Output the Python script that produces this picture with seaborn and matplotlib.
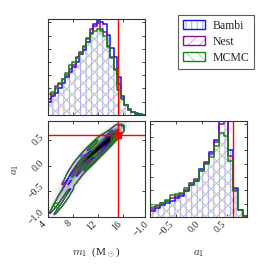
import numpy as np
import pandas as pd
import matplotlib
matplotlib.use("Agg")
import matplotlib.pyplot as plt
import seaborn as sns
from matplotlib.patches import Patch
from matplotlib.legend_handler import HandlerTuple

sns.set_style("ticks")
plt.rcParams["font.family"] = ["Liberation Serif", "DejaVu Serif"]
plt.rcParams["mathtext.fontset"] = "cm"
plt.rcParams["hatch.linewidth"] = 0.7
plt.rcParams["xtick.direction"] = "in"
plt.rcParams["ytick.direction"] = "in"

# injected truth values
m1_true = 15.15
a1_true = 0.6

# m1 marginal (28 bins, heights relative to panel height)
m1_edges = list(np.linspace(4.0, 19.5, 29))
m1_bambi = [0.14, 0.20, 0.23, 0.28, 0.33, 0.40, 0.45, 0.50, 0.55, 0.64, 0.68, 0.76, 0.85, 0.95,
            1.03, 0.97, 0.95, 0.83, 0.70, 0.60, 0.40, 0.20, 0.10, 0.06, 0.03, 0.02, 0.010, 0.005]
m1_nest = [0.17, 0.22, 0.30, 0.32, 0.38, 0.42, 0.48, 0.52, 0.60, 0.66, 0.72, 0.80, 0.90, 0.93,
           0.96, 0.90, 0.86, 0.72, 0.60, 0.48, 0.32, 0.18, 0.10, 0.05, 0.03, 0.015, 0.008, 0.004]
m1_mcmc = [0.22, 0.24, 0.28, 0.33, 0.38, 0.44, 0.52, 0.55, 0.59, 0.64, 0.71, 0.79, 0.84, 0.88,
           0.90, 0.87, 0.82, 0.71, 0.59, 0.47, 0.26, 0.17, 0.10, 0.05, 0.03, 0.015, 0.008, 0.004]

# a1 marginal (20 bins)
a1_edges = list(np.linspace(-1.0, 0.9, 21))
a1_bambi = [0.06, 0.09, 0.12, 0.15, 0.17, 0.20, 0.22, 0.27, 0.33, 0.37,
            0.50, 0.56, 0.68, 0.80, 1.05, 1.05, 0.70, 0.30, 0.07, 0.01]
a1_nest = [0.08, 0.11, 0.15, 0.17, 0.20, 0.22, 0.24, 0.28, 0.35, 0.40,
           0.48, 0.57, 0.66, 0.78, 0.97, 1.00, 0.64, 0.28, 0.07, 0.015]
a1_mcmc = [0.10, 0.125, 0.15, 0.18, 0.23, 0.24, 0.25, 0.30, 0.34, 0.39,
           0.49, 0.55, 0.62, 0.74, 0.88, 0.84, 0.58, 0.27, 0.07, 0.015]

# joint posterior band: ridge centre, lower and upper edge of the grey band, weight
band_m1 = [4.5, 5.3, 6.0, 6.7, 7.5, 8.3, 9.0, 10.0, 11.0, 11.5, 12.5, 13.5, 14.2, 15.0, 16.0, 17.0, 18.0]
band_mid = [-0.90, -0.76, -0.62, -0.48, -0.32, -0.15, -0.02, 0.12, 0.23, 0.28, 0.38, 0.48, 0.56, 0.62, 0.67, 0.70, 0.72]
band_lo = [-1.00, -0.92, -0.80, -0.68, -0.52, -0.33, -0.20, -0.05, 0.07, 0.12, 0.25, 0.37, 0.46, 0.54, 0.60, 0.65, 0.68]
band_hi = [-0.80, -0.62, -0.45, -0.29, -0.12, 0.03, 0.15, 0.28, 0.38, 0.44, 0.52, 0.60, 0.67, 0.71, 0.74, 0.76, 0.77]
band_w = [0.15, 0.20, 0.30, 0.40, 0.50, 0.55, 0.62, 0.70, 0.80, 0.85, 0.95, 0.90, 0.75, 0.45, 0.12, 0.03, 0.01]

samplers = ["Bambi", "Nest", "MCMC"]
colors = {"Bambi": "#1010ff", "Nest": "#8e108e", "MCMC": "#118a11"}
light = {"Bambi": "#a8a8ff", "Nest": "#d9a6d9", "MCMC": "#a6d9a6"}
hatches = {"Bambi": "|||", "Nest": "///", "MCMC": "\\\\\\"}
m1_hist = {"Bambi": m1_bambi, "Nest": m1_nest, "MCMC": m1_mcmc}
a1_hist = {"Bambi": a1_bambi, "Nest": a1_nest, "MCMC": a1_mcmc}
bw = {"MCMC": 0.50, "Nest": 0.44, "Bambi": 0.41}

fig = plt.figure(figsize=(2.66, 2.66), dpi=100)
ax_m1 = fig.add_axes([0.1805, 0.5677, 0.3647, 0.3609])
ax_2d = fig.add_axes([0.1805, 0.1842, 0.3647, 0.3609])
ax_a1 = fig.add_axes([0.5639, 0.1842, 0.3647, 0.3609])


def marginal(ax, edges, heights, name):
    centers = [0.5 * (a + b) for a, b in zip(edges[:-1], edges[1:])]
    df = pd.DataFrame({"x": centers, "w": heights})
    sns.histplot(data=df, x="x", weights="w", bins=edges, element="step", fill=True,
                 color=light[name], facecolor="none", edgecolor=light[name],
                 hatch=hatches[name], linewidth=0, ax=ax)
    sns.histplot(data=df, x="x", weights="w", bins=edges, element="step", fill=False,
                 color=colors[name], linewidth=1.1, ax=ax)


for s in samplers:
    marginal(ax_m1, m1_edges, m1_hist[s], s)
    marginal(ax_a1, a1_edges, a1_hist[s], s)

ax_m1.axvline(m1_true, color="red", lw=1)
ax_a1.axvline(a1_true, color="red", lw=1)

# joint posterior
joint = pd.DataFrame({
    "m1": band_m1 * 3,
    "a1": band_mid + band_lo + band_hi,
    "w": band_w + [0.5 * w for w in band_w] * 2,
})
sns.kdeplot(data=joint, x="m1", y="a1", weights="w", fill=True, cmap="Greys",
            levels=20, thresh=0.01, bw_adjust=0.68, ax=ax_2d)
for s in ["Bambi", "Nest", "MCMC"]:
    sns.kdeplot(data=joint, x="m1", y="a1", weights="w", levels=[0.12, 0.55],
                colors=[colors[s]], linewidths=0.75, bw_adjust=bw[s], ax=ax_2d)
ax_2d.axvline(m1_true, color="red", lw=1)
ax_2d.axhline(a1_true, color="red", lw=1)
ax_2d.plot([m1_true], [a1_true], "s", color="red", ms=4)
ax_2d.plot([5.3, 14.45], [-0.77, 0.54], "o", mfc="none", mec=colors["MCMC"], ms=3.5, mew=0.8)

for ax in (ax_m1, ax_2d):
    ax.set_xlim(4, 19.5)
    ax.set_xticks([4, 8, 12, 16])
ax_m1.set_ylim(0, 1)
ax_m1.set_yticks(np.arange(0, 1.0, 0.138))
ax_m1.set_xticklabels([])
ax_m1.set_yticklabels([])

ax_2d.set_ylim(-1.0, 0.87)
ax_2d.set_yticks([-1.0, -0.5, 0.0, 0.5])
ax_2d.set_xticklabels(["4", "8", "12", "16"])

ax_a1.set_xlim(-1.0, 0.88)
ax_a1.set_xticks([-1.0, -0.5, 0.0, 0.5])
ax_a1.set_xticklabels(["\u22121.0", "\u22120.5", "0.0", "0.5"])
ax_a1.set_ylim(0, 1)
ax_a1.set_yticks(np.arange(0, 1.0, 0.139))
ax_a1.set_yticklabels([])
ax_2d.set_yticklabels(["\u22121.0", "\u22120.5", "0.0", "0.5"])

for ax in (ax_m1, ax_2d, ax_a1):
    ax.set_xlabel("")
    ax.set_ylabel("")
    ax.tick_params(top=True, right=True, length=2.5, width=0.6, labelsize=7, pad=1.5)
    for sp in ax.spines.values():
        sp.set_linewidth(0.8)
        sp.set_color("#333333")
    for lab in ax.get_xticklabels() + ax.get_yticklabels():
        lab.set_rotation(45)

for lab in ax_2d.get_xticklabels() + ax_a1.get_xticklabels():
    lab.set_ha("right")
    lab.set_va("top")
for lab in ax_2d.get_yticklabels():
    lab.set_va("center")

ax_2d.set_xlabel(r"$m_1$  (M$_\odot$)", fontsize=8, labelpad=9)
ax_2d.set_ylabel(r"$a_1$", fontsize=8, labelpad=4)
ax_a1.set_xlabel(r"$a_1$", fontsize=8, labelpad=7)

handles = []
for s in samplers:
    h_fill = Patch(facecolor="white", edgecolor=light[s], hatch=hatches[s], lw=0)
    h_edge = Patch(facecolor="none", edgecolor=colors[s], lw=1.0)
    handles.append((h_fill, h_edge))
leg = fig.legend(handles, samplers, loc="upper left", bbox_to_anchor=(0.669, 0.944),
                 handler_map={tuple: HandlerTuple(ndivide=1)}, fontsize=8.5,
                 frameon=True, fancybox=False, edgecolor="#333333", borderaxespad=0,
                 handlelength=1.9, handleheight=0.75, handletextpad=0.6,
                 labelspacing=0.35, borderpad=0.4)
leg.get_frame().set_linewidth(0.8)

fig.savefig("out.png", dpi=100)
